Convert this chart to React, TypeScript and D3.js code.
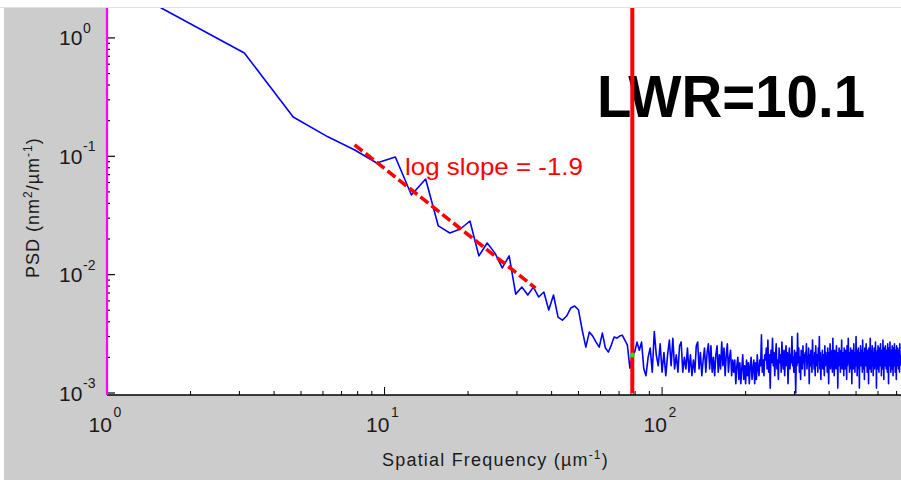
import React, { useEffect, useRef } from 'react';
import * as d3 from 'd3';

// PSD bins are spaced by freqStep (µm^-1), first bin = 1 * freqStep
const freqStep = 1.5625;

// first bins (nm^2·µm)
const psdHead = [
  1.8, 0.747, 0.215, 0.146, 0.113, 0.0878, 0.0987, 0.0471, 0.0643, 0.0258,
  0.0225, 0.0243, 0.0284, 0.0144, 0.0185, 0.0152, 0.0114, 0.0144, 0.00685, 0.00785,
  0.00673, 0.00785, 0.00647, 0.00713, 0.00502, 0.00673, 0.00438, 0.00413, 0.00447, 0.00522,
  0.00543, 0.00502, 0.0034, 0.00244, 0.00327, 0.00303, 0.00269, 0.00244, 0.00321, 0.0024,
  0.00222, 0.00254, 0.00297, 0.00291, 0.00303, 0.00308, 0.0028, 0.00254, 0.00162, 0.00209,
  0.00222, 0.00269
];

// noise floor, in units of 1e-3 nm^2·µm
const psdTail = [
  2.3, 2.7, 1.6, 1.4, 2.0, 2.4, 1.5, 3.3, 2.1, 1.7, 2.6, 1.5, 2.2, 1.4, 2.1, 2.8, 1.7, 2.9, 1.6, 2.1,
  1.5, 2.5, 2.7, 1.5, 2.0, 1.6, 2.4, 1.5, 2.1, 1.4, 1.9, 1.5, 2.5, 2.7, 1.6, 2.2, 1.4, 1.9, 2.4, 1.5,
  2.2, 2.6, 1.6, 2.5, 1.5, 2.0, 1.4, 2.1,
  2.5, 1.5, 2.1, 1.6, 2.7, 1.7, 2.4, 1.4, 2.1, 2.6, 1.5, 2.0, 2.3, 1.4, 1.9,
  1.5, 1.9, 1.2, 1.7, 2.0, 1.3, 1.8, 1.2, 1.6, 2.1, 1.3, 1.7, 1.2, 1.9, 1.4, 1.8, 1.2, 1.7, 2.0, 1.3,
  1.6, 1.9, 1.2, 1.8, 1.3, 2.1, 1.6, 1.4, 1.9, 1.7, 3.1, 1.5, 1.9, 1.4, 2.1,
  1.9, 2.4, 1.6, 2.8, 1.5, 2.1, 1.1, 2.3, 1.8, 2.9, 1.7, 2.2, 1.4, 2.0, 2.6, 1.6, 1.9, 1.3, 2.4, 1.8,
  2.1, 1.5, 2.7, 1.9, 1.6, 2.3, 1.4, 2.0, 2.5, 1.7, 2.2, 1.2, 1.9, 2.4, 1.6, 2.1, 1.8, 3.0, 1.7, 2.0,
  1.5, 2.3, 1.9, 1.0, 2.2, 1.7, 3.2, 1.8, 2.4, 1.5, 2.0, 1.3, 2.3, 1.9, 1.6, 2.5, 1.8, 2.1, 1.4, 2.2,
  1.9, 2.6, 1.6, 2.0, 1.8, 2.4, 1.2, 2.1, 1.7, 2.3, 1.9, 1.5, 2.8, 1.8, 2.0, 1.6, 2.2, 1.4, 2.5, 1.9,
  1.7, 2.1, 1.5, 2.4, 1.9, 3.0, 1.6, 2.2, 1.3, 2.0, 1.8, 2.3, 1.6, 2.1, 1.9, 1.4, 2.5, 1.7, 2.2, 1.8,
  2.0, 1.5, 2.4, 1.9, 1.2, 2.2, 1.8, 2.6, 1.6, 2.1, 1.9, 2.3, 1.5, 2.9, 1.7, 2.0, 1.4, 2.3, 1.8, 2.1,
  1.6, 2.5, 1.9, 2.2, 1.1, 2.0, 1.7, 2.4, 1.8, 2.1, 1.5, 2.3, 1.9, 2.8, 1.6, 2.0, 1.8, 2.2, 1.4, 2.4,
  1.9, 1.6, 2.3, 1.8, 2.1, 1.3, 2.5, 1.7, 2.0, 2.9, 1.8, 2.2, 1.5, 2.1, 1.9, 2.4, 1.6, 2.0, 1.2, 2.3,
  1.8, 2.1, 1.6, 2.6, 1.9, 2.2, 1.5, 2.0, 1.8, 3.0, 1.7, 2.3, 1.4, 2.1, 1.9, 2.4, 1.6, 2.0, 1.1, 2.2,
  1.9, 2.5, 1.7, 2.1, 1.8, 2.3, 1.5, 2.8, 1.9, 2.0, 1.6, 2.2, 1.3, 2.4, 1.8, 2.1, 1.7, 2.6, 1.9, 2.0,
  1.5, 2.3, 1.8, 2.1, 1.2, 2.4, 1.9, 2.2, 1.6, 2.9, 1.8, 2.0, 1.5, 2.3, 1.9, 2.5, 1.7, 2.1, 1.4, 2.2,
  1.9, 2.4, 1.6, 2.0, 1.8, 2.7, 1.7, 2.2, 1.1, 2.1, 1.9, 2.3, 1.6, 2.5, 1.8, 2.0, 1.5, 2.4, 1.9, 2.1,
  1.7, 2.6, 1.8, 2.2, 1.4, 2.3, 1.9, 2.0, 1.6, 2.8, 1.8, 2.1, 1.3, 2.4, 1.9, 2.2, 1.7, 2.5, 1.8, 2.0,
  1.6, 2.3, 1.9, 2.1, 1.5, 2.6, 1.8, 2.2, 1.2, 2.4, 1.9, 2.0, 1.7, 2.7, 1.8, 2.1, 1.5, 2.3, 1.9, 2.2,
  1.6, 2.5, 1.8, 2.0, 1.4, 2.4, 1.9, 2.1, 1.7, 2.6, 1.8, 2.2, 1.5, 2.3, 1.9, 2.0, 1.3, 2.5, 1.8, 2.1,
  1.7, 2.4, 1.9, 2.2, 1.6, 2.3, 1.8, 2.0, 1.5, 2.6, 1.9, 2.1, 1.7
];

// fitted power law (red dashed)
const fitFreq = [7.8, 35];
const fitPsd = [0.125, 0.0077];
const cutoffFreq = 78.125;

const xDecades = [1, 10, 100];
const xExponents = ['0', '1', '2'];
const yDecades = [1, 0.1, 0.01, 0.001];
const yExponents = ['0', '-1', '-2', '-3'];

const slopeLabel = 'log slope = -1.9';
const lwrLabel = 'LWR=10.1';

const font = 'Liberation Sans, Arial, Helvetica, sans-serif';

export default function App() {
  const ref = useRef<SVGSVGElement>(null);

  useEffect(() => {
    const svg = d3.select(ref.current);
    svg.selectAll('*').remove();
    const W = 901, H = 480;
    const left = 107, right = 901, top = 8, bottom = 395;

    const x = d3.scaleLog().domain([1, 726]).range([left, right]);
    const y = d3.scaleLog().domain([0.000962, 1.79]).range([bottom, top]);

    const data = psdHead.concat(psdTail.map(v => v * 1e-3))
      .map((v, i) => ({ f: (i + 1) * freqStep, v }));

    svg.append('rect').attr('width', W).attr('height', H).attr('fill', '#fff');
    svg.append('rect').attr('x', 4).attr('y', top).attr('width', W - 4).attr('height', H - top)
      .attr('fill', '#cccccc');
    svg.append('line').attr('x1', 0).attr('x2', W).attr('y1', top - 0.5).attr('y2', top - 0.5)
      .attr('stroke', '#e2e2e2');
    svg.append('rect').attr('x', left).attr('y', top).attr('width', right - left)
      .attr('height', bottom - top).attr('fill', '#fff');

    svg.append('defs').append('clipPath').attr('id', 'plotClip')
      .append('rect').attr('x', left).attr('y', top).attr('width', right - left)
      .attr('height', bottom - top);

    // big label
    svg.append('text')
      .attr('x', 597).attr('y', 117)
      .attr('font-family', font).attr('font-weight', 'bold').attr('font-size', 60)
      .attr('textLength', 268).attr('lengthAdjust', 'spacingAndGlyphs')
      .attr('fill', '#000')
      .text(lwrLabel);

    const g = svg.append('g').attr('clip-path', 'url(#plotClip)');

    const line = d3.line<{ f: number, v: number }>()
      .x(d => x(d.f))
      .y(d => y(d.v));

    g.append('path')
      .datum(data)
      .attr('d', line)
      .attr('fill', 'none')
      .attr('stroke', '#0000ff')
      .attr('stroke-width', 1.6)
      .attr('stroke-linejoin', 'round');

    g.append('line')
      .attr('x1', x(fitFreq[0])).attr('y1', y(fitPsd[0]))
      .attr('x2', x(fitFreq[1])).attr('y2', y(fitPsd[1]))
      .attr('stroke', '#ff0000').attr('stroke-width', 3.6)
      .attr('stroke-dasharray', '10,4');

    g.append('text')
      .attr('x', 405).attr('y', 175)
      .attr('font-family', font).attr('font-size', 24)
      .attr('textLength', 178).attr('lengthAdjust', 'spacingAndGlyphs')
      .attr('fill', '#ff0000')
      .text(slopeLabel);

    g.append('line')
      .attr('x1', x(cutoffFreq)).attr('x2', x(cutoffFreq))
      .attr('y1', top).attr('y2', bottom)
      .attr('stroke', '#ff0000').attr('stroke-width', 4);

    const cut = data.find(d => Math.abs(d.f - cutoffFreq) < 1e-6);
    if (cut) {
      g.append('circle')
        .attr('cx', x(cut.f)).attr('cy', y(cut.v)).attr('r', 2.5)
        .attr('fill', '#22dd22');
    }
    g.append('rect')
      .attr('x', x(cutoffFreq) - 1).attr('y', bottom - 2).attr('width', 2).attr('height', 2)
      .attr('fill', '#00ffff');

    // axes
    const axes = svg.append('g');
    axes.append('line')
      .attr('x1', left).attr('x2', right).attr('y1', bottom).attr('y2', bottom)
      .attr('stroke', '#000').attr('stroke-width', 1.5);

    xDecades.forEach(d => {
      for (let m = 1; m <= 9; m++) {
        const v = d * m;
        const px = x(v);
        if (px < left || px > right) continue;
        axes.append('line')
          .attr('x1', px).attr('x2', px)
          .attr('y1', bottom).attr('y2', bottom - (m == 1 ? 8 : 4))
          .attr('stroke', '#000').attr('stroke-width', 1);
      }
    });
    yDecades.forEach(d => {
      for (let m = 1; m <= 9; m++) {
        const v = d * m;
        const py = y(v);
        if (py < top || py > bottom) continue;
        axes.append('line')
          .attr('x1', left).attr('x2', left + (m == 1 ? 8 : 3))
          .attr('y1', py).attr('y2', py)
          .attr('stroke', '#000').attr('stroke-width', 1.2);
      }
    });

    axes.append('line')
      .attr('x1', left).attr('x2', left).attr('y1', top).attr('y2', bottom)
      .attr('stroke', '#ff00ff').attr('stroke-width', 2.2);

    // tick labels
    xDecades.forEach((d, i) => {
      const px = x(d);
      axes.append('text')
        .attr('x', px - 18.5).attr('y', 432)
        .attr('font-family', font).attr('font-size', 21).attr('fill', '#1a1a1a')
        .text('10');
      axes.append('text')
        .attr('x', px + 6.5).attr('y', 417)
        .attr('font-family', font).attr('font-size', 14).attr('fill', '#1a1a1a')
        .text(xExponents[i]);
    });
    yDecades.forEach((d, i) => {
      const py = y(d);
      axes.append('text')
        .attr('x', 59).attr('y', py + 7.5)
        .attr('font-family', font).attr('font-size', 21).attr('fill', '#1a1a1a')
        .text('10');
      axes.append('text')
        .attr('x', 83).attr('y', py - 5)
        .attr('font-family', font).attr('font-size', 14).attr('fill', '#1a1a1a')
        .text(yExponents[i]);
    });

    // axis titles
    const xt = axes.append('text')
      .attr('x', 382).attr('y', 466)
      .attr('font-family', font).attr('font-size', 18).attr('fill', '#1a1a1a')
      .attr('letter-spacing', 1.2);
    xt.append('tspan').text('Spatial Frequency (µm');
    xt.append('tspan').attr('font-size', 12).attr('dy', -7).text('-1');
    xt.append('tspan').attr('dy', 7).text(')');

    const yt = axes.append('text')
      .attr('transform', 'translate(39,278) rotate(-90)')
      .attr('font-family', font).attr('font-size', 18).attr('fill', '#1a1a1a')
      .attr('letter-spacing', 1);
    yt.append('tspan').text('PSD (nm');
    yt.append('tspan').attr('font-size', 12).attr('dy', -7).text('2');
    yt.append('tspan').attr('dy', 7).text('/µm');
    yt.append('tspan').attr('font-size', 12).attr('dy', -7).text('-1');
    yt.append('tspan').attr('dy', 7).text(')');
  }, []);

  return (
    <svg ref={ref} width={901} height={480}
      style={{ position: 'absolute', left: 0, top: 0, display: 'block' }} />
  );
}
